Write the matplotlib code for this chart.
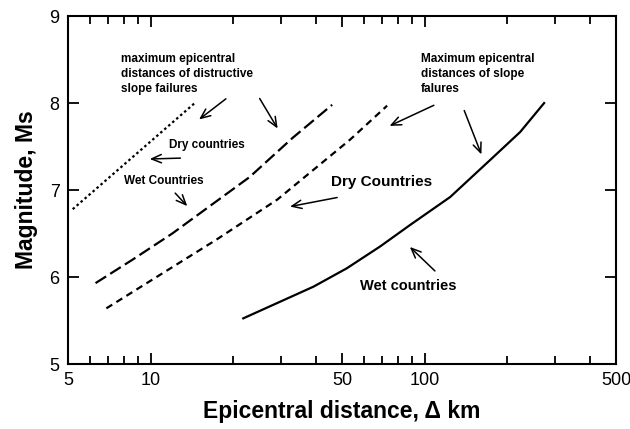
import matplotlib
matplotlib.use('Agg')
import matplotlib.pyplot as plt
from matplotlib.ticker import FixedLocator, FixedFormatter, NullFormatter
from matplotlib import rcParams

rcParams['font.family'] = ['Liberation Sans', 'DejaVu Sans']
rcParams['font.weight'] = 'bold'
rcParams['lines.scale_dashes'] = False

# curves: epicentral distance (km) vs magnitude Ms
dotted_dist = [5.2, 14.5]
dotted_mag = [6.78, 8.0]

longdash_dist = [6.3, 8.6, 12.0, 23.0, 33.0, 46.0]
longdash_mag = [5.93, 6.2, 6.5, 7.15, 7.6, 7.98]

shortdash_dist = [6.9, 17.4, 29.0, 53.5, 73.0]
shortdash_mag = [5.64, 6.43, 6.89, 7.58, 7.97]

solid_dist = [21.8, 29.7, 39.3, 52.0, 68.8, 88.5, 124.0, 173.4, 223.2, 273.0]
solid_mag = [5.525, 5.716, 5.889, 6.10, 6.351, 6.598, 6.92, 7.345, 7.667, 8.0]

x_major = [5, 10, 50, 100, 500]
x_minor = [6, 7, 8, 9, 20, 30, 40, 60, 70, 80, 90, 200, 300, 400]
y_ticks = [5, 6, 7, 8, 9]

fig = plt.figure(figsize=(6.3, 4.29), dpi=100)
ax = fig.add_axes([0.108, 0.1515, 0.870, 0.811])

ax.plot(dotted_dist, dotted_mag, color='black', lw=1.6, dashes=(1.8, 2.0))
ax.plot(longdash_dist, longdash_mag, color='black', lw=1.6, dashes=(9, 3.5))
ax.plot(shortdash_dist, shortdash_mag, color='black', lw=1.6, dashes=(5, 3.5))
ax.plot(solid_dist, solid_mag, color='black', lw=1.6)

ax.set_xscale('log')
ax.set_xlim(5, 500)
ax.set_ylim(5, 9)
ax.xaxis.set_major_locator(FixedLocator(x_major))
ax.xaxis.set_major_formatter(FixedFormatter([str(v) for v in x_major]))
ax.xaxis.set_minor_locator(FixedLocator(x_minor))
ax.xaxis.set_minor_formatter(NullFormatter())
ax.set_yticks(y_ticks)

ax.tick_params(which='both', direction='in', top=True, right=True, width=1.3,
               labelsize=13, pad=6)
ax.tick_params(which='major', length=8)
ax.tick_params(which='minor', length=5.5)
for lbl in ax.get_xticklabels() + ax.get_yticklabels():
    lbl.set_fontweight('normal')
for s in ax.spines.values():
    s.set_linewidth(1.5)

ax.set_xlabel('Epicentral distance, \u0394 km', fontsize=16.5, fontweight='bold', labelpad=8)
ax.set_ylabel('Magnitude, Ms', fontsize=16.5, fontweight='bold', labelpad=8)

arrow = dict(arrowstyle='->,head_length=0.7,head_width=0.3', lw=1.1, color='black')
tr = ax.transAxes

ax.text(0.097, 0.894, 'maximum epicentral\ndistances of distructive\nslope failures',
        transform=tr, fontsize=8.5, va='top', ha='left', linespacing=1.35)
ax.annotate('', xy=(0.235, 0.698), xytext=(0.292, 0.767), xycoords=tr, textcoords=tr, arrowprops=arrow)
ax.annotate('', xy=(0.385, 0.670), xytext=(0.347, 0.770), xycoords=tr, textcoords=tr, arrowprops=arrow)

ax.text(0.254, 0.629, 'Dry countries', transform=tr, fontsize=8.5, ha='center', va='center')
ax.annotate('', xy=(0.144, 0.589), xytext=(0.210, 0.592), xycoords=tr, textcoords=tr, arrowprops=arrow)

ax.text(0.102, 0.526, 'Wet Countries', transform=tr, fontsize=8.5, ha='left', va='center')
ax.annotate('', xy=(0.221, 0.448), xytext=(0.192, 0.497), xycoords=tr, textcoords=tr, arrowprops=arrow)

ax.text(0.644, 0.894, 'Maximum epicentral\ndistances of slope\nfalures',
        transform=tr, fontsize=8.5, va='top', ha='left', linespacing=1.35)
ax.annotate('', xy=(0.582, 0.681), xytext=(0.672, 0.747), xycoords=tr, textcoords=tr, arrowprops=arrow)
ax.annotate('', xy=(0.756, 0.595), xytext=(0.721, 0.736), xycoords=tr, textcoords=tr, arrowprops=arrow)

ax.text(0.572, 0.523, 'Dry Countries', transform=tr, fontsize=11, ha='center', va='center')
ax.annotate('', xy=(0.400, 0.451), xytext=(0.496, 0.480), xycoords=tr, textcoords=tr, arrowprops=arrow)

ax.text(0.533, 0.224, 'Wet countries', transform=tr, fontsize=10.5, ha='left', va='center')
ax.annotate('', xy=(0.620, 0.342), xytext=(0.673, 0.262), xycoords=tr, textcoords=tr, arrowprops=arrow)

fig.savefig('out.png', dpi=100)
